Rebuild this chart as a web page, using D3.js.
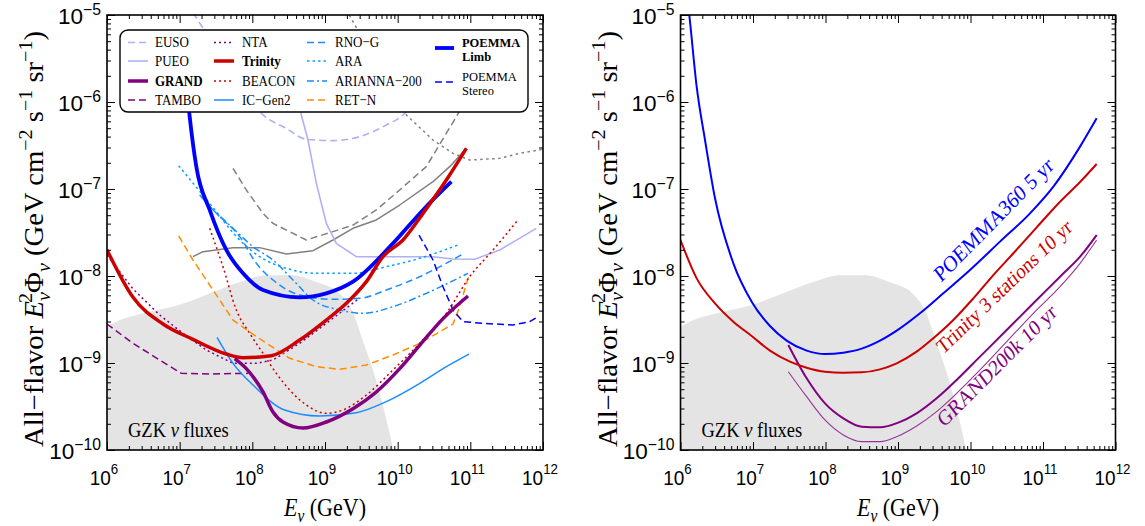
<!DOCTYPE html>
<html><head><meta charset="utf-8">
<script src="https://cdn.jsdelivr.net/npm/d3@7"></script>
<style>body{margin:0;background:#fff}</style>
</head><body>
<svg id="c" width="1145" height="526" xmlns="http://www.w3.org/2000/svg"></svg>
<script>
// ---------- DATA (log10 E/GeV , log10 flux GeV cm^-2 s^-1 sr^-1) ----------
const xTickExps = [6,7,8,9,10,11,12];
const yTickExps = [-10,-9,-8,-7,-6,-5];
const gzkEnvelope = [[6.0,-8.58],[6.17,-8.51],[6.59,-8.41],[7.0,-8.33],[7.41,-8.20],[7.83,-8.07],[8.19,-7.99],[8.56,-7.99],[8.88,-8.07],[9.20,-8.20],[9.39,-8.43],[9.52,-8.74],[9.66,-9.08],[9.80,-9.50],[9.89,-9.81],[9.94,-10.0]];
// left panel
const euso = [[7.183,-4.973],[7.642,-5.556],[8.147,-6.149],[8.468,-6.303],[8.743,-6.429],[9.110,-6.444],[9.477,-6.398],[9.844,-6.264],[10.073,-6.149],[10.303,-5.900]];
const pueo = [[8.628,-5.862],[8.674,-6.149],[8.766,-6.437],[8.881,-6.935],[9.018,-7.395],[9.156,-7.625],[9.431,-7.778],[10.486,-7.778],[10.761,-7.805],[11.060,-7.808],[11.404,-7.701],[11.908,-7.452]];
const grand = [[7.757,-8.950],[7.917,-9.065],[8.147,-9.333],[8.284,-9.563],[8.422,-9.678],[8.697,-9.747],[9.018,-9.678],[9.385,-9.525],[9.706,-9.333],[10.028,-9.065],[10.303,-8.797],[10.624,-8.490],[10.968,-8.230]];
const tambo = [[6.0,-8.552],[6.358,-8.774],[6.725,-8.966],[7.023,-9.119],[7.413,-9.126],[7.940,-9.119]];
const nta = [[6.0,-7.759],[6.358,-8.149],[6.725,-8.448],[7.046,-8.659],[7.367,-8.851],[7.734,-9.004],[8.055,-9.004],[8.284,-8.966],[8.651,-8.774],[9.018,-8.544],[9.454,-8.268]];
const trinity = [[6.0,-7.701],[6.358,-8.245],[6.771,-8.552],[7.183,-8.728],[7.642,-8.897],[7.872,-8.939],[8.261,-8.916],[8.651,-8.736],[9.018,-8.506],[9.294,-8.314],[9.569,-8.065],[9.798,-7.778],[10.073,-7.586],[10.349,-7.280],[10.670,-6.897],[10.945,-6.533]];
const beacon = [[7.413,-7.452],[7.596,-7.893],[7.780,-8.391],[7.963,-8.659],[8.147,-8.889],[8.330,-9.119],[8.514,-9.310],[8.743,-9.483],[9.018,-9.579],[9.248,-9.540],[9.569,-9.368],[9.936,-9.080],[10.303,-8.774],[10.670,-8.429],[10.991,-8.008],[11.312,-7.701],[11.656,-7.356]];
const icGen2 = [[7.514,-8.705],[7.734,-9.004],[8.009,-9.253],[8.445,-9.540],[8.927,-9.609],[9.431,-9.571],[9.844,-9.444],[10.303,-9.234],[10.670,-9.042],[10.982,-8.897]];
const rnoG = [[7.275,-7.069],[7.505,-7.280],[7.826,-7.548],[8.055,-7.854],[8.284,-8.046],[8.651,-8.218],[9.110,-8.268],[9.477,-8.257],[9.844,-8.161],[10.303,-8.008],[10.899,-7.747]];
const ara = [[6.986,-6.732],[7.413,-7.165],[7.826,-7.586],[8.101,-7.778],[8.468,-7.912],[8.881,-7.969],[9.385,-7.969],[9.844,-7.893],[10.303,-7.797],[10.853,-7.636]];
const arianna = [[7.413,-7.203],[7.734,-7.452],[8.009,-7.663],[8.284,-7.816],[8.560,-8.046],[8.835,-8.276],[9.202,-8.391],[9.523,-8.429],[9.936,-8.352],[10.394,-8.199],[10.968,-7.969]];
const retN = [[6.986,-7.540],[7.183,-7.816],[7.459,-8.161],[7.734,-8.506],[8.055,-8.697],[8.514,-8.946],[8.881,-9.042],[9.202,-9.073],[9.569,-9.023],[9.936,-8.908],[10.303,-8.774],[10.761,-8.552],[10.853,-8.352],[10.982,-7.989]];
const poemmaLimb = [[7.10,-5.86],[7.138,-6.169],[7.229,-6.743],[7.413,-7.241],[7.642,-7.701],[7.872,-7.969],[8.147,-8.161],[8.651,-8.245],[9.018,-8.199],[9.385,-8.065],[9.936,-7.625],[10.349,-7.241],[10.739,-6.916]];
const poemmaStereo = [[10.294,-7.529],[10.486,-7.816],[10.624,-8.123],[10.761,-8.391],[10.899,-8.525],[11.174,-8.544],[11.587,-8.563],[11.817,-8.525],[11.931,-8.467]];
const grayDashed = [[7.734,-6.762],[7.917,-7.011],[8.147,-7.280],[8.284,-7.395],[8.743,-7.586],[9.110,-7.490],[9.385,-7.414],[9.706,-7.241],[10.028,-7.011],[10.394,-6.743],[10.807,-6.169],[10.991,-5.900]];
const graySolid = [[7.183,-7.778],[7.321,-7.720],[7.734,-7.674],[8.101,-7.674],[8.468,-7.747],[8.835,-7.709],[9.110,-7.586],[9.385,-7.452],[9.706,-7.356],[10.028,-7.184],[10.486,-6.916],[10.716,-6.743],[10.945,-6.533]];
const grayDotted = [[9.294,-4.943],[10.119,-6.149],[10.486,-6.437],[10.761,-6.590],[10.991,-6.667],[11.404,-6.648],[11.679,-6.590],[12.0,-6.544]];
// right panel
const poemma360 = [[6.10,-4.85],[6.121,-5.0],[6.223,-5.824],[6.338,-6.437],[6.476,-7.107],[6.729,-7.854],[6.982,-8.295],[7.234,-8.575],[7.464,-8.743],[7.740,-8.858],[7.993,-8.897],[8.246,-8.881],[8.499,-8.835],[8.752,-8.743],[9.028,-8.602],[9.303,-8.429],[9.625,-8.199],[9.993,-7.931],[10.407,-7.605],[10.821,-7.280],[11.143,-6.973],[11.511,-6.513],[11.740,-6.188]];
const trinity3 = [[6.0,-7.586],[6.223,-8.027],[6.476,-8.314],[6.729,-8.525],[6.982,-8.690],[7.234,-8.858],[7.510,-8.985],[7.740,-9.054],[7.993,-9.100],[8.246,-9.111],[8.499,-9.107],[8.752,-9.073],[8.982,-9.004],[9.257,-8.870],[9.487,-8.716],[9.763,-8.506],[10.039,-8.257],[10.315,-7.989],[10.591,-7.739],[10.913,-7.441],[11.235,-7.146],[11.511,-6.920],[11.740,-6.713]];
const grand200k = [[7.487,-8.793],[7.740,-9.176],[7.993,-9.464],[8.246,-9.636],[8.499,-9.732],[8.752,-9.739],[9.004,-9.686],[9.257,-9.579],[9.533,-9.406],[9.809,-9.195],[10.131,-8.927],[10.499,-8.621],[10.867,-8.314],[11.235,-8.008],[11.511,-7.778],[11.740,-7.529]];
const grand200kAlt = [[7.487,-9.100],[7.740,-9.387],[7.993,-9.655],[8.246,-9.828],[8.499,-9.904],[8.752,-9.904],[9.004,-9.839],[9.257,-9.724],[9.533,-9.559],[9.809,-9.349],[10.131,-9.080],[10.499,-8.755],[10.867,-8.429],[11.235,-8.123],[11.511,-7.854],[11.740,-7.586]];
const rightLabels = ["POEMMA360 5 yr","Trinity 3 stations 10 yr","GRAND200k 10 yr"];

// ---------- STYLE TABLES ----------
const C_LAV='#b0b0f6', C_PUR='#800080', C_RED='#cc0000', C_BLU='#0000ff', C_SKY='#1a8cff', C_ARA='#0aa0ff', C_ORG='#ff8c00', C_GRY='#808080';
const leftSeries = [
  {d:grayDotted, c:C_GRY, w:1.5, dash:'2.5,3.5'},
  {d:grayDashed, c:C_GRY, w:1.5, dash:'7,4'},
  {d:graySolid, c:C_GRY, w:1.5},
  {d:euso, c:C_LAV, w:1.6, dash:'7,4', smooth:true},
  {d:pueo, c:C_LAV, w:1.6},
  {d:tambo, c:C_PUR, w:1.5, dash:'7,4'},
  {d:nta, c:C_PUR, w:1.5, dash:'2,3'},
  {d:retN, c:C_ORG, w:1.5, dash:'7,4'},
  {d:ara, c:C_ARA, w:1.5, dash:'2.5,3', smooth:true},
  {d:rnoG, c:C_SKY, w:1.5, dash:'7,4', smooth:true},
  {d:arianna, c:C_SKY, w:1.5, dash:'7,3,2,3', smooth:true},
  {d:icGen2, c:C_SKY, w:1.5, smooth:true},
  {d:beacon, c:C_RED, w:1.5, dash:'2,3', smooth:true},
  {d:poemmaStereo, c:C_BLU, w:1.5, dash:'7,4'},
  {d:poemmaLimb, c:C_BLU, w:3.8, smooth:true},
  {d:trinity, c:C_RED, w:3.5, smooth:true},
  {d:grand, c:C_PUR, w:3.5, smooth:true}
];
const rightSeries = [
  {d:grand200kAlt, c:'#993399', w:1.1, smooth:true},
  {d:grand200k, c:C_PUR, w:2, smooth:true},
  {d:trinity3, c:C_RED, w:2, smooth:true},
  {d:poemma360, c:C_BLU, w:2, smooth:true}
];
const legend = [
  [{n:'EUSO',c:C_LAV,w:1.6,dash:'7,4'},{n:'PUEO',c:C_LAV,w:1.6},{n:'GRAND',c:C_PUR,w:3.5,b:1},{n:'TAMBO',c:C_PUR,w:1.5,dash:'7,4'}],
  [{n:'NTA',c:C_PUR,w:1.5,dash:'2,3'},{n:'Trinity',c:C_RED,w:3.5,b:1},{n:'BEACON',c:C_RED,w:1.5,dash:'2,3'},{n:'IC\u2212Gen2',c:C_SKY,w:1.5}],
  [{n:'RNO\u2212G',c:C_SKY,w:1.5,dash:'7,4'},{n:'ARA',c:C_ARA,w:1.5,dash:'2.5,3'},{n:'ARIANNA\u2212200',c:C_SKY,w:1.5,dash:'7,3,2,3'},{n:'RET\u2212N',c:C_ORG,w:1.5,dash:'7,4'}]
];

// ---------- DRAW ----------
const SY = 1.17;
const svg = d3.select('#c');
const SERIF = "'Liberation Serif','DejaVu Serif',serif";
const SANS = "'Liberation Sans',Arial,sans-serif";

function richText(parent, x, y, segs, o){
  let tr = `translate(${x},${y})`;
  if (o.rot0) tr += ` rotate(${o.rot0})`;
  if (o.sy!==0) tr += ` scale(1,${o.sy||SY})`;
  if (o.rot) tr += ` rotate(${o.rot})`;
  const t = parent.append('text').attr('transform', tr)
    .attr('font-family', o.family).attr('font-size', o.size)
    .attr('text-anchor', o.anchor||'start').attr('fill', o.fill||'#000');
  if (o.weight) t.attr('font-weight', o.weight);
  let shift = 0;
  segs.forEach(s=>{
    const sp = t.append('tspan').text(s.t);
    let target = 0, fs = null;
    if (s.sup){ target = -o.size*(s.supk||0.42); fs = o.size*0.7; }
    if (s.sub){ target = o.size*0.25; fs = o.size*0.7; }
    if (target-shift !== 0) sp.attr('dy', target-shift);
    shift = target;
    if (fs) sp.attr('font-size', fs);
    if (s.i) sp.attr('font-style','italic');
    if (s.dx) sp.attr('dx', s.dx);
  });
  if (o.len) t.attr('textLength', o.len).attr('lengthAdjust','spacingAndGlyphs');
  return t;
}

const panels = [
  {left:107, top:15, width:436, height:435, series:leftSeries, legend:true},
  {left:680.5, top:15, width:435, height:435, series:rightSeries, labels:true}
];

panels.forEach((p,pi)=>{
  const x = d3.scaleLog().domain([1e6,1e12]).range([p.left, p.left+p.width]);
  const y = d3.scaleLog().domain([1e-10,1e-5]).range([p.top+p.height, p.top]);
  const X = v=>x(Math.pow(10,v)), Y = v=>y(Math.pow(10,v));
  const clipId = 'clip'+pi;
  svg.append('clipPath').attr('id',clipId).append('rect')
    .attr('x',p.left).attr('y',p.top).attr('width',p.width).attr('height',p.height);
  const g = svg.append('g').attr('clip-path',`url(#${clipId})`);
  g.append('path').datum(gzkEnvelope)
    .attr('d', d3.area().x(d=>X(d[0])).y0(y(1e-10)).y1(d=>Y(d[1])).curve(d3.curveMonotoneX))
    .attr('fill','#e4e4e4');
  p.series.forEach(s=>{
    const line = d3.line().x(d=>X(d[0])).y(d=>Y(d[1])).curve(s.smooth?d3.curveMonotoneX:d3.curveLinear);
    g.append('path').datum(s.d).attr('d',line).attr('fill','none')
      .attr('stroke',s.c).attr('stroke-width',s.w)
      .attr('stroke-dasharray',s.dash||null).attr('stroke-linejoin','round');
  });
  richText(svg, p.left + 21, 437, [{t:'GZK '},{t:'\u03bd',i:true},{t:' fluxes'}], {family:SERIF,size:18.5});

  const majX = xTickExps.map(e=>Math.pow(10,e));
  const minX = x.ticks().filter(v=>!majX.some(m=>Math.abs(m-v)/v<1e-6));
  const majY = yTickExps.map(e=>Math.pow(10,e));
  const minY = y.ticks().filter(v=>!majY.some(m=>Math.abs(m-v)/v<1e-6));
  const ax = [
    [d3.axisBottom, x, `translate(0,${p.top+p.height})`, majX, minX],
    [d3.axisTop, x, `translate(0,${p.top})`, majX, minX],
    [d3.axisLeft, y, `translate(${p.left},0)`, majY, minY],
    [d3.axisRight, y, `translate(${p.left+p.width},0)`, majY, minY]
  ];
  ax.forEach(([fn,sc,tr,maj,mn])=>{
    [[maj,-8],[mn,-4]].forEach(([vals,len])=>{
      const a = svg.append('g').attr('transform',tr)
        .call(fn(sc).tickValues(vals).tickSize(len).tickFormat(()=>''));
      a.select('.domain').remove();
      a.selectAll('line').attr('stroke','#000').attr('stroke-width',1);
    });
  });
  svg.append('rect').attr('x',p.left).attr('y',p.top).attr('width',p.width).attr('height',p.height)
    .attr('fill','none').attr('stroke','#000').attr('stroke-width',1.6);
  xTickExps.forEach(e=>{
    richText(svg, x(Math.pow(10,e))-3, 485, [{t:'10'},{t:String(e),sup:true,supk:0.55}], {family:SANS,size:19,anchor:'middle',sy:1.08});
  });
  yTickExps.forEach(e=>{
    richText(svg, p.left-6, y(Math.pow(10,e))+9, [{t:'10'},{t:(e<0?'\u2212':'')+Math.abs(e),sup:true,supk:0.42}], {family:SANS,size:22.5,anchor:'end',sy:1});
  });
  const cx = p.left + p.width/2;
  richText(svg, cx, 516, [{t:'E',i:true},{t:'\u03bd',i:true,sub:true},{t:' (GeV)'}], {family:SERIF,size:22,anchor:'middle'});
  richText(svg, p.left-64, 239, [
      {t:'All\u2212flavor '},{t:'E',i:true},{t:'\u03bd',i:true,sub:true},{t:'2',sup:true,dx:-10},
      {t:'\u03a6'},{t:'\u03bd',i:true,sub:true},{t:' (GeV cm'},{t:'\u22122',sup:true},{t:' s'},{t:'\u22121',sup:true},{t:' sr'},{t:'\u22121',sup:true},{t:')'}
    ], {family:SERIF,size:26.5,anchor:'middle',rot0:-90,sy:0,len:416});

  if (p.legend){
    const L = svg.append('g');
    L.append('rect').attr('x',120).attr('y',30).attr('width',408).attr('height',82).attr('rx',8)
      .attr('fill','#fff').attr('stroke','#000').attr('stroke-width',1.4);
    const colLine=[128,214,307], colText=[155,242,335], rowY=[42.5,61,81,100];
    legend.forEach((col,ci)=>col.forEach((it,ri)=>{
      L.append('line').attr('x1',colLine[ci]).attr('x2',colLine[ci]+20).attr('y1',rowY[ri]).attr('y2',rowY[ri])
        .attr('stroke',it.c).attr('stroke-width',it.w).attr('stroke-dasharray',it.dash||null);
      richText(L, colText[ci], rowY[ri]+4.5, [{t:it.n}], {family:SERIF,size:13,weight:it.b?'bold':null});
    }));
    L.append('line').attr('x1',435).attr('x2',454).attr('y1',48).attr('y2',48).attr('stroke',C_BLU).attr('stroke-width',3.8);
    richText(L, 462, 46.8, [{t:'POEMMA'}], {family:SERIF,size:12.5,weight:'bold',sy:1.05});
    richText(L, 462, 61.2, [{t:'Limb'}], {family:SERIF,size:12.5,weight:'bold',sy:1.05});
    L.append('line').attr('x1',435).attr('x2',454).attr('y1',82).attr('y2',82).attr('stroke',C_BLU).attr('stroke-width',1.5).attr('stroke-dasharray','7,4');
    richText(L, 462, 80.8, [{t:'POEMMA'}], {family:SERIF,size:12.5,sy:1.05});
    richText(L, 462, 95.2, [{t:'Stereo'}], {family:SERIF,size:12.5,sy:1.05});
  }
  if (p.labels){
    const lab = [[rightLabels[0],941,283,C_BLU,-41,19.5],[rightLabels[1],943,355,C_RED,-39.5,18.5],[rightLabels[2],944,428,C_PUR,-40.5,19]];
    lab.forEach(([t,lx,ly,c,r,fs])=>richText(svg,lx,ly,[{t}],{family:SERIF,size:fs,fill:c,rot:r}));
  }
});
</script>
</body></html>
